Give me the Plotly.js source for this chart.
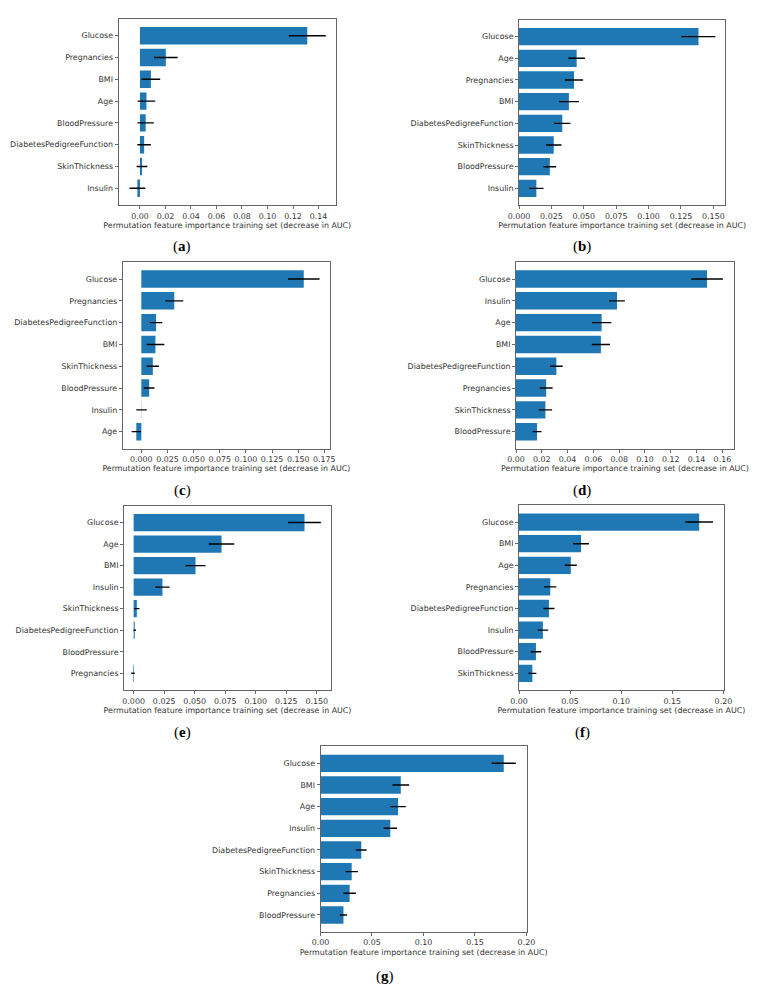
<!DOCTYPE html>
<html>
<head>
<meta charset="utf-8">
<script src="https://cdn.plot.ly/plotly-3.0.1.min.js"></script>
<style>html,body{margin:0;padding:0;background:#fff}#chart{width:759px;height:987px}</style>
</head>
<body>
<div id="chart"></div>
<script>
// ---- Data (features listed top to bottom as drawn) ----
const featA = ["Glucose","Pregnancies","BMI","Age","BloodPressure","DiabetesPedigreeFunction","SkinThickness","Insulin"];
const valA  = [0.1312, 0.0203, 0.0086, 0.0051, 0.0045, 0.0033, 0.0016, -0.0020];
const errA  = [0.0145, 0.0093, 0.0073, 0.0069, 0.0064, 0.0053, 0.0042, 0.0062];

const featB = ["Glucose","Age","Pregnancies","BMI","DiabetesPedigreeFunction","SkinThickness","BloodPressure","Insulin"];
const valB  = [0.1385, 0.0445, 0.0425, 0.0385, 0.0334, 0.0268, 0.0238, 0.0134];
const errB  = [0.0131, 0.0064, 0.0070, 0.0077, 0.0063, 0.0060, 0.0049, 0.0055];

const featC = ["Glucose","Pregnancies","DiabetesPedigreeFunction","BMI","SkinThickness","BloodPressure","Insulin","Age"];
const valC  = [0.1553, 0.0315, 0.0141, 0.0135, 0.0110, 0.0075, 0.0002, -0.0048];
const errC  = [0.0151, 0.0086, 0.0059, 0.0085, 0.0059, 0.0051, 0.0050, 0.0045];

const featD = ["Glucose","Insulin","Age","BMI","DiabetesPedigreeFunction","Pregnancies","SkinThickness","BloodPressure"];
const valD  = [0.1481, 0.0783, 0.0664, 0.0658, 0.0313, 0.0234, 0.0228, 0.0163];
const errD  = [0.0123, 0.0061, 0.0075, 0.0070, 0.0049, 0.0050, 0.0052, 0.0035];

const featE = ["Glucose","Age","BMI","Insulin","SkinThickness","DiabetesPedigreeFunction","BloodPressure","Pregnancies"];
const valE  = [0.1400, 0.0720, 0.0507, 0.0236, 0.0026, 0.0009, 0.0000, -0.0005];
const errE  = [0.0134, 0.0104, 0.0082, 0.0059, 0.0022, 0.0010, 0.0000, 0.0014];

const featF = ["Glucose","BMI","Age","Pregnancies","DiabetesPedigreeFunction","Insulin","BloodPressure","SkinThickness"];
const valF  = [0.1763, 0.0607, 0.0507, 0.0306, 0.0293, 0.0234, 0.0166, 0.0131];
const errF  = [0.0136, 0.0078, 0.0059, 0.0060, 0.0054, 0.0052, 0.0051, 0.0039];

const featG = ["Glucose","BMI","Age","Insulin","DiabetesPedigreeFunction","SkinThickness","Pregnancies","BloodPressure"];
const valG  = [0.1780, 0.0780, 0.0753, 0.0678, 0.0396, 0.0303, 0.0283, 0.0223];
const errG  = [0.0117, 0.0081, 0.0076, 0.0065, 0.0052, 0.0060, 0.0060, 0.0036];

// tick labels
const ticksA = ["0.00","0.02","0.04","0.06","0.08","0.10","0.12","0.14"];
const ticksB = ["0.000","0.025","0.050","0.075","0.100","0.125","0.150"];
const ticksC = ["0.000","0.025","0.050","0.075","0.100","0.125","0.150","0.175"];
const ticksD = ["0.00","0.02","0.04","0.06","0.08","0.10","0.12","0.14","0.16"];
const ticksE = ["0.000","0.025","0.050","0.075","0.100","0.125","0.150"];
const ticksF = ["0.00","0.05","0.10","0.15","0.20"];
const ticksG = ["0.00","0.05","0.10","0.15","0.20"];

const xTitle = "Permutation feature importance training set (decrease in AUC)";
const captions = ["a","b","c","d","e","f","g"];

// ---- Layout geometry (pixels) ----
const W = 759, H = 987;
const panels = [
  {feat: featA, val: valA, err: errA, ticks: ticksA, xr: [-0.0168, 0.1537], px: [118.5, 336], py: [18.5, 205.5], cap: [182, 247]},
  {feat: featB, val: valB, err: errB, ticks: ticksB, xr: [0, 0.1592],       px: [519, 725.3], py: [19.5, 205.5], cap: [582, 247]},
  {feat: featC, val: valC, err: errC, ticks: ticksC, xr: [-0.0178, 0.1804], px: [122.7, 330], py: [261.8, 448.9], cap: [182, 490]},
  {feat: featD, val: valD, err: errD, ticks: ticksD, xr: [0, 0.169],        px: [516, 734],   py: [261.8, 448.9], cap: [582, 490]},
  {feat: featE, val: valE, err: errE, ticks: ticksE, xr: [-0.0079, 0.1617], px: [124, 331],   py: [505.5, 690.3], cap: [182, 732]},
  {feat: featF, val: valF, err: errF, ticks: ticksF, xr: [0, 0.2003],       px: [519, 723.7], py: [505, 690.4],   cap: [582, 732]},
  {feat: featG, val: valG, err: errG, ticks: ticksG, xr: [0, 0.2003],       px: [320.5, 526.7], py: [746.2, 932.1], cap: [385, 976]}
];

const FONT = "DejaVu Sans, sans-serif";
const FS = 7.9;
const TXT = "#333333";
const traces = [];
const layout = {
  width: W, height: H,
  margin: {l: 0, r: 0, t: 0, b: 0},
  paper_bgcolor: "#ffffff", plot_bgcolor: "#ffffff",
  showlegend: false,
  font: {family: FONT, size: FS, color: TXT},
  annotations: []
};

panels.forEach((p, i) => {
  const sfx = i === 0 ? "" : String(i + 1);
  traces.push({
    type: "bar", orientation: "h",
    x: p.val, y: p.feat,
    xaxis: "x" + sfx, yaxis: "y" + sfx,
    width: 0.8,
    marker: {color: "#1f77b4", line: {width: 0}},
    error_x: {type: "data", array: p.err, visible: true, color: "#000000", thickness: 1.4, width: 0},
    hoverinfo: "x+y"
  });
  const tv = p.ticks.map(t => parseFloat(t));
  layout["xaxis" + sfx] = {
    domain: [p.px[0] / W, p.px[1] / W],
    anchor: "y" + sfx,
    range: p.xr,
    tickmode: "array", tickvals: tv, ticktext: p.ticks, tickangle: 0,
    ticks: "outside", ticklen: 3, tickwidth: 0.8, tickcolor: "#444",
    showline: true, linecolor: "#555", linewidth: 0.9, mirror: true,
    showgrid: false, zeroline: false,
    tickfont: {family: FONT, size: FS, color: TXT},
    title: {text: xTitle, font: {family: FONT, size: FS, color: TXT}, standoff: 2}
  };
  layout["yaxis" + sfx] = {
    domain: [1 - p.py[1] / H, 1 - p.py[0] / H],
    anchor: "x" + sfx,
    type: "category",
    categoryorder: "array", categoryarray: p.feat,
    range: [p.feat.length - 1 + 0.79, -0.79],
    ticks: "outside", ticklen: 3, tickwidth: 0.8, tickcolor: "#444",
    showline: true, linecolor: "#555", linewidth: 0.9, mirror: true,
    showgrid: false, zeroline: false,
    tickfont: {family: FONT, size: FS, color: TXT}
  };
  layout.annotations.push({
    xref: "paper", yref: "paper",
    x: p.cap[0] / W, y: 1 - p.cap[1] / H,
    xanchor: "center", yanchor: "middle",
    text: "(<b>" + captions[i] + "</b>)",
    showarrow: false,
    font: {family: "Liberation Serif, DejaVu Serif, serif", size: 15, color: "#000"}
  });
});

Plotly.newPlot("chart", traces, layout, {staticPlot: true, displayModeBar: false});
</script>
</body>
</html>
